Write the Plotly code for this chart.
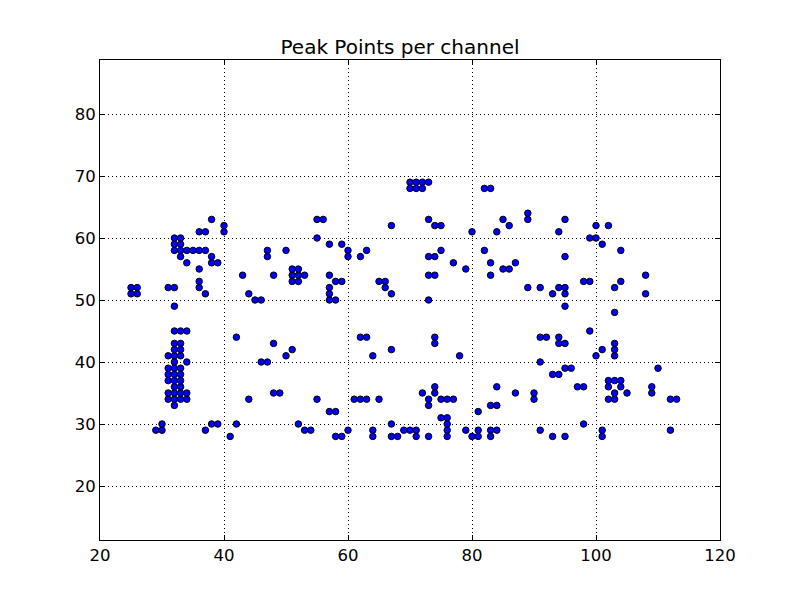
import plotly.graph_objects as go

# channel -> peak point values
peaks_by_channel = {
    25: [51, 52], 26: [51, 52], 29: [29], 30: [29, 30],
    31: [34, 35, 37, 38, 39, 41, 52],
    32: [33, 34, 35, 36, 37, 38, 39, 40, 41, 42, 43, 45, 49, 52, 58, 59, 60],
    33: [34, 35, 36, 37, 38, 39, 41, 42, 43, 45, 57, 58, 59, 60],
    34: [34, 35, 40, 45, 56, 58], 35: [58], 36: [52, 53, 55, 58, 61],
    37: [29, 51, 58, 61], 38: [30, 56, 57, 63], 39: [30, 56], 40: [61, 62],
    41: [28], 42: [30, 44], 43: [54], 44: [34, 51], 45: [50], 46: [40, 50],
    47: [40, 57, 58], 48: [35, 43, 54], 49: [35], 50: [41, 58],
    51: [42, 53, 54, 55], 52: [30, 53, 54, 55], 53: [29, 54], 54: [29],
    55: [34, 60, 63], 56: [63], 57: [32, 50, 51, 52, 54, 59],
    58: [28, 32, 50, 53], 59: [28, 53, 59], 60: [29, 57, 58], 61: [34],
    62: [34, 44, 57], 63: [34, 44, 58], 64: [28, 29, 41], 65: [34, 53],
    66: [52, 53], 67: [28, 30, 42, 51, 62], 68: [28], 69: [29],
    70: [29, 68, 69], 71: [28, 29, 68, 69], 72: [35, 68, 69],
    73: [28, 33, 34, 50, 54, 57, 63, 69], 74: [35, 36, 43, 44, 54, 57, 62],
    75: [31, 34, 58, 62], 76: [28, 29, 30, 31, 34], 77: [34, 56], 78: [41],
    79: [29, 55], 80: [28, 61], 81: [28, 29, 32], 82: [58, 68],
    83: [28, 29, 33, 54, 56, 68], 84: [29, 33, 36, 61], 85: [55, 63],
    86: [55, 62], 87: [35, 56], 89: [52, 63, 64], 90: [34, 35],
    91: [29, 40, 44, 52], 92: [44], 93: [28, 38, 51],
    94: [38, 43, 44, 52, 61], 95: [28, 39, 43, 49, 51, 52, 57, 63],
    96: [39], 97: [36], 98: [30, 36, 53], 99: [45, 53, 60],
    100: [41, 60, 62], 101: [28, 29, 42, 59], 102: [34, 36, 37, 62],
    103: [34, 35, 37, 41, 42, 43, 48, 52], 104: [36, 37, 53, 58], 105: [35],
    108: [51, 54], 109: [35, 36], 110: [39], 112: [29, 34], 113: [34],
}

channels = [c for c, vals in peaks_by_channel.items() for _ in vals]
peaks = [v for vals in peaks_by_channel.values() for v in vals]

x_ticks = [20, 40, 60, 80, 100, 120]
y_ticks = [20, 30, 40, 50, 60, 70, 80]

fig = go.Figure(go.Scatter(
    x=channels, y=peaks, mode="markers",
    marker=dict(size=6.5, color="#0000ff", line=dict(color="black", width=1)),
    cliponaxis=False,
))

axis_common = dict(
    showline=True, linecolor="black", linewidth=1, mirror="allticks",
    ticks="inside", ticklen=5, tickcolor="black", tickwidth=1,
    showgrid=True, gridcolor="black", gridwidth=0.6, griddash="1px,3px",
    zeroline=False, tickfont=dict(family="DejaVu Sans", size=16.5, color="black"),
)

fig.update_layout(
    width=800, height=600,
    margin=dict(l=100, r=80, t=60, b=60),
    paper_bgcolor="white", plot_bgcolor="white",
    showlegend=False,
    title=dict(text="Peak Points per channel", x=0.5, xanchor="center",
               y=1 - 47 / 600, yanchor="middle",
               font=dict(family="DejaVu Sans", size=20, color="black")),
    xaxis=dict(range=[20, 120], tickvals=x_ticks, ticktext=[str(t) for t in x_ticks], **axis_common),
    yaxis=dict(range=[11.29, 88.71], tickvals=y_ticks, ticktext=[str(t) for t in y_ticks], **axis_common),
)

fig.write_html("out.html", config={"displayModeBar": False},
               post_script="document.body.style.margin='0';")
